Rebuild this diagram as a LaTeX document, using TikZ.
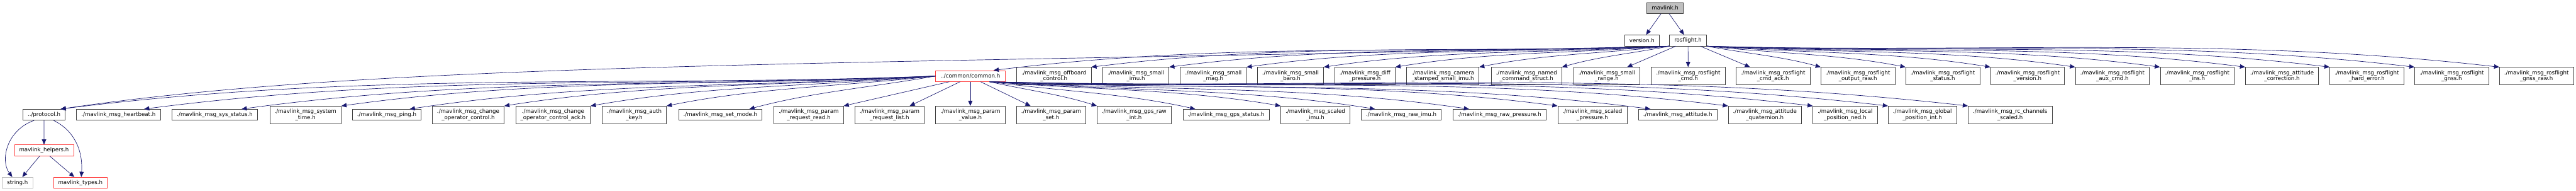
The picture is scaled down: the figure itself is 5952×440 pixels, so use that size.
\documentclass[tikz,border=0pt]{standalone}
\usepackage{fontspec}
\setmainfont{DejaVu Sans}
\usetikzlibrary{arrows.meta,calc}

\definecolor{edgeblue}{HTML}{191970}
\definecolor{boxgray}{HTML}{404040}
\definecolor{truncred}{HTML}{FF4040}
\definecolor{nofilegray}{HTML}{BFBFBF}

\tikzset{
  hfile/.style={draw=boxgray, line width=1pt, fill=white, inner xsep=11pt, inner ysep=2pt, minimum height=25.3pt, align=center},
  hfile2/.style={hfile, minimum height=40pt},
  trunc/.style={hfile, draw=truncred},
  nofile/.style={hfile, draw=nofilegray},
  incl/.style={draw=edgeblue, line width=1pt, -{Triangle[length=12pt,width=10pt]}},
}

\begin{document}
\begin{tikzpicture}[x=1pt,y=-1pt,font=\fontsize{12.6}{13.7}\selectfont]
\useasboundingbox (0,0) rectangle (5952,440);
% top of the graph
\node[hfile, fill=nofilegray] (mavlink) at (3847.2,18.5) {mavlink.h};
\node[hfile] (version) at (3794,93.3) {version.h};
\node[hfile] (rosflight) at (3900.3,93.3) {rosflight.h};
\node[trunc] (common) at (2242,175.3) {../common/common.h};
% messages of rosflight.h
\foreach \x/\n/\t in {
  2435/offb/{./mavlink\_msg\_offboard\\\_control.h},
  2624.5/simu/{./mavlink\_msg\_small\\\_imu.h},
  2803.3/smag/{./mavlink\_msg\_small\\\_mag.h},
  2981.8/sbaro/{./mavlink\_msg\_small\\\_baro.h},
  3153.8/diffp/{./mavlink\_msg\_diff\\\_pressure.h},
  3333.8/camimu/{./mavlink\_msg\_camera\\\_stamped\_small\_imu.h},
  3527/namedcmd/{./mavlink\_msg\_named\\\_command\_struct.h},
  3712.5/srange/{./mavlink\_msg\_small\\\_range.h},
  3900.5/rfcmd/{./mavlink\_msg\_rosflight\\\_cmd.h},
  4096.5/rfack/{./mavlink\_msg\_rosflight\\\_cmd\_ack.h},
  4292.7/rfout/{./mavlink\_msg\_rosflight\\\_output\_raw.h},
  4488.7/rfstat/{./mavlink\_msg\_rosflight\\\_status.h},
  4684.7/rfver/{./mavlink\_msg\_rosflight\\\_version.h},
  4880.7/rfaux/{./mavlink\_msg\_rosflight\\\_aux\_cmd.h},
  5076.7/rfins/{./mavlink\_msg\_rosflight\\\_ins.h},
  5272.7/attcorr/{./mavlink\_msg\_attitude\\\_correction.h},
  5468.5/rferr/{./mavlink\_msg\_rosflight\\\_hard\_error.h},
  5664.7/rfgnss/{./mavlink\_msg\_rosflight\\\_gnss.h},
  5860.7/rfgnssraw/{./mavlink\_msg\_rosflight\\\_gnss\_raw.h}}
  \node[hfile2] (\n) at (\x,175.2) {\t};
% messages of common.h
\foreach \x/\n/\t in {
  705.8/systime/{./mavlink\_msg\_system\\\_time.h},
  1081.8/chop/{./mavlink\_msg\_change\\\_operator\_control.h},
  1277.8/chopack/{./mavlink\_msg\_change\\\_operator\_control\_ack.h},
  1465.7/authkey/{./mavlink\_msg\_auth\\\_key.h},
  1868.7/prread/{./mavlink\_msg\_param\\\_request\_read.h},
  2055.2/prlist/{./mavlink\_msg\_param\\\_request\_list.h},
  2242/pvalue/{./mavlink\_msg\_param\\\_value.h},
  2428.7/pset/{./mavlink\_msg\_param\\\_set.h},
  2620.5/gpsraw/{./mavlink\_msg\_gps\_raw\\\_int.h},
  3039.2/scimu/{./mavlink\_msg\_scaled\\\_imu.h},
  3679.2/scpress/{./mavlink\_msg\_scaled\\\_pressure.h},
  4077.8/attq/{./mavlink\_msg\_attitude\\\_quaternion.h},
  4263.3/localpos/{./mavlink\_msg\_local\\\_position\_ned.h},
  4441.7/globalpos/{./mavlink\_msg\_global\\\_position\_int.h},
  4644.5/rcscaled/{./mavlink\_msg\_rc\_channels\\\_scaled.h}}
  \node[hfile2] (\n) at (\x,264.7) {\t};
\foreach \x/\n/\t in {
  101.8/protocol/{../protocol.h},
  273.7/heartbeat/{./mavlink\_msg\_heartbeat.h},
  496.3/sysstat/{./mavlink\_msg\_sys\_status.h},
  893.7/ping/{./mavlink\_msg\_ping.h},
  1664.5/setmode/{./mavlink\_msg\_set\_mode.h},
  2832.7/gpsstat/{./mavlink\_msg\_gps\_status.h},
  3237.8/rawimu/{./mavlink\_msg\_raw\_imu.h},
  3464.5/rawpress/{./mavlink\_msg\_raw\_pressure.h},
  3876.5/att/{./mavlink\_msg\_attitude.h}}
  \node[hfile] (\n) at (\x,264.5) {\t};
% bottom
\node[trunc] (helpers) at (101.7,346.5) {mavlink\_helpers.h};
\node[nofile] (string) at (40.5,421.2) {string.h};
\node[trunc] (types) at (185.8,421.2) {mavlink\_types.h};

% mavlink.h
\draw[incl] (mavlink) -- (version);
\draw[incl] (mavlink) -- (rosflight);
% rosflight.h
\draw[incl] (rosflight.south west) .. controls (2000,150) and (900,140) .. ([xshift=-11pt]protocol.north east);
\foreach \n/\s in {common/-27,offb/0,simu/0,smag/0,sbaro/0,diffp/0,camimu/0,namedcmd/0} {
  \coordinate (tip) at ([xshift=\s pt]\n.north east);
  \draw[incl] (rosflight.south west) .. controls ($(rosflight.south west)!0.35!(tip)$) and ($(tip)!0.35!5:(rosflight.south west)$) .. (tip);
}
\draw[incl] ([xshift=15pt]rosflight.south west) -- ([xshift=-30pt]srange.north east);
\draw[incl] (rosflight) -- (rfcmd);
\draw[incl] ([xshift=-15pt]rosflight.south east) -- ([xshift=33pt]rfack.north west);
\foreach \n in {rfout,rfstat,rfver,rfaux,rfins,attcorr,rferr,rfgnss,rfgnssraw}
  \draw[incl] (rosflight.south east) .. controls ($(rosflight.south east)!0.35!(\n.north west)$) and ($(\n.north west)!0.35!-5:(rosflight.south east)$) .. (\n.north west);
% common.h
\foreach \n/\s in {protocol/-11,heartbeat/-38,sysstat/-37,systime/0,ping/-27,chop/0,chopack/0,authkey/0,setmode/-30} {
  \coordinate (tip) at ([xshift=\s pt]\n.north east);
  \draw[incl] (common.west) .. controls ($(common.west)!0.35!(tip)$) and ($(tip)!0.35!5:(common.west)$) .. (tip);
}
\draw[incl] ([xshift=32pt]common.south west) -- (prread.north east);
\draw[incl] ([xshift=57pt]common.south west) -- ([xshift=-34pt]prlist.north east);
\draw[incl] (common) -- (pvalue);
\draw[incl] ([xshift=-57pt]common.south east) -- ([xshift=33pt]pset.north west);
\coordinate (src) at ([xshift=-36pt]common.south east);
\foreach \n/\s in {gpsraw/0,gpsstat/29,scimu/0,rawimu/32,rawpress/38,scpress/0,att/28,attq/0,localpos/0,globalpos/0,rcscaled/0} {
  \coordinate (tip) at ([xshift=\s pt]\n.north west);
  \draw[incl] (src) .. controls ($(src)!0.35!(tip)$) and ($(tip)!0.35!-5:(src)$) .. (tip);
}
% protocol.h
\draw[incl] ([xshift=-23pt]protocol.south) .. controls (15,300) and (0,370) .. ([xshift=-12pt]string.north);
\draw[incl] (protocol) -- (helpers);
\draw[incl] ([xshift=22pt]protocol.south) .. controls (170,300) and (192,345) .. ([xshift=2pt]types.north);
% mavlink_helpers.h
\draw[incl] ([xshift=-10pt]helpers.south) -- ([xshift=11pt]string.north);
\draw[incl] ([xshift=13pt]helpers.south) -- ([xshift=-14pt]types.north);
\end{tikzpicture}
\end{document}
